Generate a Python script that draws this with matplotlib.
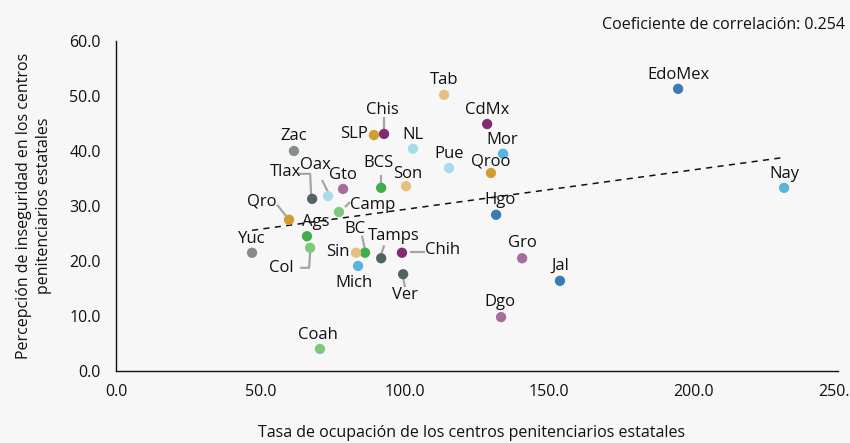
import matplotlib.pyplot as plt
import numpy as np

plt.rcParams['font.family'] = ['Open Sans', 'DejaVu Sans']

# data: occupancy rate (x) vs. perceived insecurity (y), by state
estados = ['Yuc', 'Zac', 'Qro', 'Tlax', 'Oax', 'Gto', 'Ags', 'Col', 'Camp', 'Coah',
           'BC', 'Sin', 'Mich', 'Tamps', 'Chih', 'Ver', 'SLP', 'Chis', 'BCS', 'Son',
           'NL', 'Tab', 'Pue', 'CdMx', 'Mor', 'Qroo', 'Hgo', 'Gro', 'Jal', 'Dgo',
           'EdoMex', 'Nay']
ocupacion = [47.1, 61.6, 59.9, 67.9, 73.4, 78.6, 66.1, 67.2, 77.2, 70.6,
             86.2, 83.1, 83.8, 91.8, 99.0, 99.4, 89.3, 92.8, 91.8, 100.4,
             102.8, 113.6, 115.3, 128.5, 134.0, 129.8, 131.6, 140.6, 153.7, 133.3,
             194.6, 231.3]
inseguridad = [21.5, 40.0, 27.5, 31.3, 31.8, 33.1, 24.5, 22.4, 28.9, 4.0,
               21.5, 21.5, 19.1, 20.5, 21.5, 17.6, 42.9, 43.1, 33.3, 33.6,
               40.4, 50.2, 36.9, 44.9, 39.5, 36.0, 28.4, 20.5, 16.4, 9.8,
               51.3, 33.3]
correlacion = 0.254

c_blue, c_lblue, c_vlblue = '#3a7bb3', '#55b5dc', '#a8dcec'
c_tan, c_gold = '#e6c07f', '#d19d33'
c_purple, c_mauve = '#842a73', '#a66d9b'
c_green, c_lgreen = '#3fae49', '#7ec87d'
c_gray, c_dgray = '#868c8e', '#556265'
colores = [c_gray, c_gray, c_gold, c_dgray, c_vlblue, c_mauve, c_green, c_lgreen, c_lgreen, c_lgreen,
           c_green, c_tan, c_lblue, c_dgray, c_purple, c_dgray, c_gold, c_purple, c_green, c_tan,
           c_vlblue, c_tan, c_vlblue, c_purple, c_lblue, c_gold, c_blue, c_mauve, c_blue, c_mauve,
           c_blue, c_lblue]

# label offsets from the point, in pixels (dx, dy up), and optional leader lines
offsets = {
    'Yuc': (0, 14), 'Zac': (0, 15), 'Qro': (-27, 18), 'Tlax': (-27, 27), 'Oax': (-13, 31),
    'Gto': (0, 14), 'Ags': (9, 14), 'Col': (-29, -20), 'Camp': (34, 7), 'Coah': (-2, 14),
    'BC': (-10, 24), 'Sin': (-18, 1), 'Mich': (-4, -17), 'Tamps': (13, 22), 'Chih': (41, 3),
    'Ver': (2, -21), 'SLP': (-20, 1), 'Chis': (-2, 24), 'BCS': (-3, 25), 'Son': (2, 12),
    'NL': (0, 14), 'Tab': (0, 15), 'Pue': (0, 14), 'CdMx': (0, 14), 'Mor': (-1, 14),
    'Qroo': (0, 11), 'Hgo': (4, 15), 'Gro': (0, 15), 'Jal': (0, 15), 'Dgo': (-1, 15),
    'EdoMex': (0, 14), 'Nay': (0, 14),
}
leaders = {
    'Qro': [(-12, 15), (0, 0)],
    'Tlax': [(-14, 25), (-2, 25), (-1, 4)],
    'Oax': [(-6, 16), (0, 4)],
    'Camp': [(6, 5), (11, 10)],
    'Col': [(-10, -20), (-1, -20), (0, -5)],
    'BC': [(-3, 17), (0, 3)],
    'Tamps': [(3, 13), (0, 4)],
    'Chih': [(8, 1), (23, 1)],
    'Ver': [(0, -4), (2, -13)],
    'Chis': [(0, 17), (0, 4)],
    'BCS': [(0, 13), (0, 3)],
}

fig = plt.figure(figsize=(8.5, 4.43), dpi=100, facecolor='#f7f7f7')
ax = fig.add_axes([0.1365, 0.1625, 0.8495, 0.745])
ax.set_facecolor('#f7f7f7')

ax.set_xlim(0, 250)
ax.set_ylim(0, 60)
ax.set_xticks(np.arange(0, 251, 50))
ax.set_yticks(np.arange(0, 61, 10))
ax.xaxis.set_major_formatter(lambda v, p: f'{v:.1f}')
ax.yaxis.set_major_formatter(lambda v, p: f'{v:.1f}')
ax.tick_params(length=0, labelsize=11.5, colors='#111111')
ax.tick_params(axis='x', pad=9)
ax.tick_params(axis='y', pad=11)
for s in ['top', 'right']:
    ax.spines[s].set_visible(False)
for s in ['left', 'bottom']:
    ax.spines[s].set_color('#111111')
    ax.spines[s].set_linewidth(1.0)

# linear trend
x = np.array(ocupacion)
y = np.array(inseguridad)
m, b = np.polyfit(x, y, 1)
xs = np.array([x.min(), x.max()])
ax.plot(xs, m * xs + b, color='#111111', lw=1.1, ls=(0, (4, 3.5)), zorder=2)

ax.scatter(x, y, s=55, c=colores, linewidths=0, zorder=4)

fig.canvas.draw()
to_disp = ax.transData
to_data = ax.transData.inverted()
for name, xi, yi in zip(estados, ocupacion, inseguridad):
    px, py = to_disp.transform((xi, yi))
    if name in leaders:
        pts = [to_data.transform((px + dx, py + dy)) for dx, dy in leaders[name]]
        pts = np.array(pts)
        ax.plot(pts[:, 0], pts[:, 1], color='#a5a5a5', lw=1.6, zorder=3,
                solid_capstyle='butt')
    dx, dy = offsets[name]
    ax.annotate(name, (xi, yi), xytext=(dx * 0.72, dy * 0.72), textcoords='offset points',
                ha='center', va='center', fontsize=12, color='#111111', zorder=5)

ax.set_xlabel('Tasa de ocupación de los centros penitenciarios estatales',
              fontsize=11.5, color='#111111')
ax.xaxis.set_label_coords(0.492, -0.165)
ax.set_ylabel('Percepción de inseguridad en los centros\npenitenciarios estatales',
              fontsize=11.5, color='#111111', linespacing=1.3)
ax.yaxis.set_label_coords(-0.089, 0.5)
fig.text(0.994, 0.944, f'Coeficiente de correlación: {correlacion}', ha='right', va='center',
         fontsize=11.5, color='#111111')

fig.savefig('out.png', dpi=100, facecolor=fig.get_facecolor())
